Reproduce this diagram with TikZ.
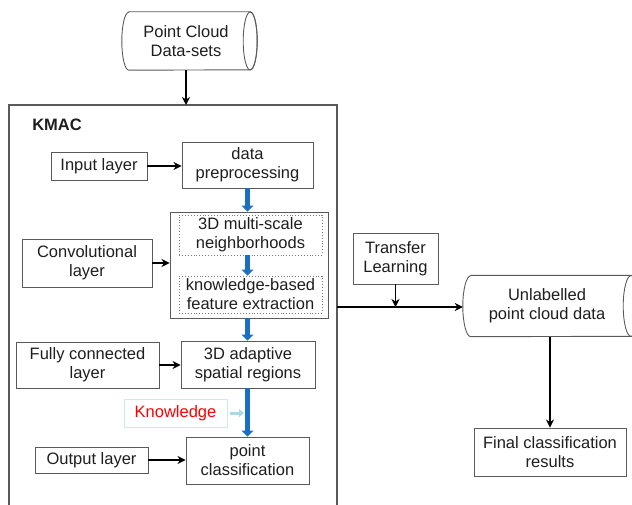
\documentclass[tikz,border=0pt]{standalone}
\usepackage{fontspec}
\setmainfont{Liberation Sans}
\usetikzlibrary{arrows.meta,calc}

\definecolor{boxgray}{HTML}{5A5A5A}
\definecolor{txt}{HTML}{1E1E1E}
\definecolor{flowblue}{HTML}{1A6FC0}
\definecolor{paleblue}{HTML}{A9D9E6}
\definecolor{palecyan}{HTML}{C6ECF1}

\tikzset{
  every node/.style={font=\fontsize{16.5}{19}\selectfont, text=txt},
  box/.style={draw=boxgray, line width=0.9pt, align=center, inner sep=2pt},
  innerbox/.style={box, dotted, draw=boxgray!80},
  invis/.style={inner sep=0pt, align=center},
  arr/.style={-{Stealth[length=8pt,width=8pt,inset=2.5pt]}, line width=1.8pt, black},
  bluearr/.style={-{Triangle[length=6pt,width=12pt]}, line width=5pt, flowblue},
  palearr/.style={-{Triangle[length=5pt,width=8pt]}, line width=3pt, paleblue},
  cyl/.style={draw=boxgray, line width=0.9pt},
}

\begin{document}
\begin{tikzpicture}[x=1pt,y=1pt]
\useasboundingbox (0,0) rectangle (632,-505);

% ---- input cylinder ----
\node[invis, minimum width=128, minimum height=58] (pcd) at (186,-41) {Point Cloud\\Data-sets};
\draw[cyl] ($(pcd.north west)+(7pt,0)$) -- (pcd.north east)
  arc[start angle=90, end angle=-90, x radius=7pt, y radius=29pt]
  -- ($(pcd.south west)+(7pt,0)$)
  arc[start angle=270, end angle=90, x radius=7pt, y radius=29pt] -- cycle;
\draw[cyl] (pcd.east) ellipse[x radius=7pt, y radius=29pt];

% ---- KMAC frame (open at the bottom) ----
\coordinate (kbl) at (9,-510);
\coordinate (ktl) at (9,-105);
\coordinate (ktr) at (337,-105);
\coordinate (kbr) at (337,-510);
\draw[draw=boxgray, line width=1.2pt] (kbl) -- (ktl) -- (ktr) -- (kbr);
\node[font=\fontsize{16.5}{19}\selectfont\bfseries] (kmac) at (57,-125) {KMAC};

\draw[arr] (pcd.south) -- (pcd.south |- ktl);

% ---- layers on the left ----
\node[box, minimum width=96, minimum height=28] (inp) at (99,-166) {Input layer};
\node[box, minimum width=130, minimum height=48] (convl) at (87,-263) {Convolutional\\layer};
\node[box, minimum width=143, minimum height=46] (fc) at (87.5,-365) {Fully connected\\layer};
\node[box, minimum width=113, minimum height=26] (outl) at (91.5,-460) {Output layer};

% ---- processing chain ----
\node[box, minimum width=131, minimum height=46] (dp) at (247.5,-165) {data\\preprocessing};
\node[box, minimum width=158, minimum height=106] (conv) at (249,-265) {};
\node[innerbox, minimum width=143, minimum height=40] (ms) at (250.5,-235) {3D multi-scale\\neighborhoods};
\node[innerbox, minimum width=143, minimum height=37] (kb) at (250.5,-294.5) {knowledge-based\\feature extraction};
\node[box, minimum width=134, minimum height=47] (asr) at (248,-364.5) {3D adaptive\\spatial regions};
\node[box, draw=palecyan, minimum width=103, minimum height=28, text=red] (know) at (175.5,-413) {Knowledge};
\node[box, minimum width=123, minimum height=47] (pc) at (247.5,-460.5) {point\\classification};

\draw[arr] (inp.east) -- (inp.east -| dp.west);
\draw[arr] (convl.east) -- (convl.east -| conv.west);
\draw[arr] (fc.east) -- (fc.east -| asr.west);
\draw[arr] (outl.east) -- (outl.east -| pc.west);

\draw[bluearr] (dp.south) -- (dp.south |- conv.north);
\draw[bluearr] (dp.south |- ms.south) -- (dp.south |- kb.north);
\draw[bluearr] (dp.south |- conv.south) -- (dp.south |- asr.north);
\draw[bluearr] (dp.south |- asr.south) -- (dp.south |- pc.north);
\draw[palearr] ([xshift=3pt]know.east) -- ([xshift=-3.5pt]know.east -| dp.south);

% ---- transfer to unlabelled data ----
\node[box, minimum width=85, minimum height=51] (tl) at (395.5,-258.5) {Transfer\\Learning};
\node[invis, minimum width=168, minimum height=61] (unl) at (547,-306) {Unlabelled\\point cloud data};
\draw[cyl] ($(unl.north west)+(8pt,0)$) -- (unl.north east)
  arc[start angle=90, end angle=-90, x radius=8pt, y radius=30.5pt]
  -- ($(unl.south west)+(8pt,0)$)
  arc[start angle=270, end angle=90, x radius=8pt, y radius=30.5pt] -- cycle;
\draw[cyl] (unl.east) ellipse[x radius=8pt, y radius=30.5pt];

\coordinate (kout) at (337,-307);
\draw[arr] (kout) -- (kout -| unl.west);
\draw[arr] (tl.south) -- (tl.south |- kout);

\node[box, minimum width=152, minimum height=48] (fin) at (550,-452) {Final classification\\results};
\draw[arr] (unl.south -| fin.north) -- (fin.north);
\end{tikzpicture}
\end{document}
